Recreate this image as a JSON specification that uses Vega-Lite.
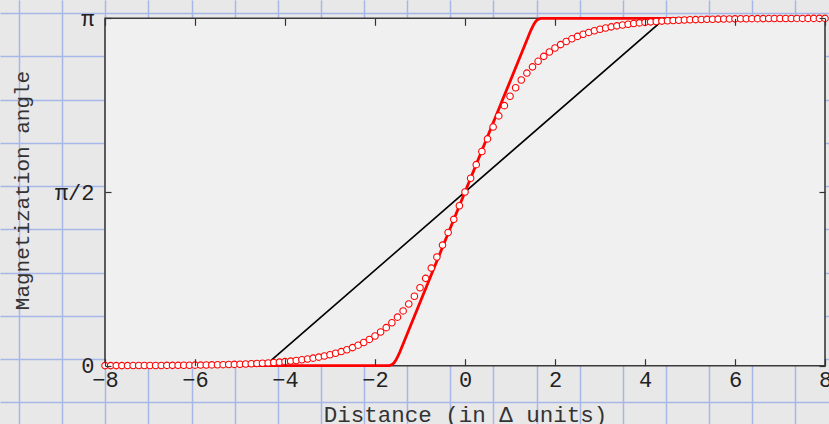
{
  "$schema": "https://vega.github.io/schema/vega-lite/v6.json",
  "width": 829,
  "height": 424,
  "autosize": {"type": "none"},
  "padding": 0,
  "background": "#e8e8e8",
  "config": {
    "view": {"stroke": null},
    "axis": {"labelFont": "Liberation Mono", "titleFont": "Liberation Mono", "labelColor": "#222", "titleColor": "#333", "titleFontWeight": "normal", "tickColor": "#333"}
  },
  "resolve": {"axis": {"x": "independent", "y": "independent"}},
  "datasets": {
    "box": [{"x0": -8, "x1": 8, "y0": 0, "y1": 3.14159}],
    "black": [{"x": -8, "y": 0}, {"x": -4.4429, "y": 0}, {"x": 4.4429, "y": 3.1416}, {"x": 8, "y": 3.1416}],
    "red": [
      {"x": -8, "y": 0}, {"x": -1.69, "y": 0}, {"x": -1.65, "y": 0.006}, {"x": -1.61, "y": 0.014}, {"x": -1.57, "y": 0.03}, {"x": -1.53, "y": 0.054}, {"x": -1.49, "y": 0.086}, {"x": -1.45, "y": 0.122},
      {"x": 1.45, "y": 3.0196}, {"x": 1.49, "y": 3.0556}, {"x": 1.53, "y": 3.0876}, {"x": 1.57, "y": 3.1116}, {"x": 1.61, "y": 3.1276}, {"x": 1.65, "y": 3.1356}, {"x": 1.69, "y": 3.1416}, {"x": 8, "y": 3.1416}
    ],
    "prof": [
      {"x": -8, "y": 0.0007}, {"x": -7.875, "y": 0.0008}, {"x": -7.75, "y": 0.0009}, {"x": -7.625, "y": 0.001}, {"x": -7.5, "y": 0.0011}, {"x": -7.375, "y": 0.0013}, {"x": -7.25, "y": 0.0014}, {"x": -7.125, "y": 0.0016},
      {"x": -7, "y": 0.0018}, {"x": -6.875, "y": 0.0021}, {"x": -6.75, "y": 0.0023}, {"x": -6.625, "y": 0.0027}, {"x": -6.5, "y": 0.003}, {"x": -6.375, "y": 0.0034}, {"x": -6.25, "y": 0.0039}, {"x": -6.125, "y": 0.0044},
      {"x": -6, "y": 0.005}, {"x": -5.875, "y": 0.0056}, {"x": -5.75, "y": 0.0064}, {"x": -5.625, "y": 0.0072}, {"x": -5.5, "y": 0.0082}, {"x": -5.375, "y": 0.0093}, {"x": -5.25, "y": 0.0105}, {"x": -5.125, "y": 0.0119},
      {"x": -5, "y": 0.0135}, {"x": -4.875, "y": 0.0153}, {"x": -4.75, "y": 0.0173}, {"x": -4.625, "y": 0.0196}, {"x": -4.5, "y": 0.0222}, {"x": -4.375, "y": 0.0252}, {"x": -4.25, "y": 0.0285}, {"x": -4.125, "y": 0.0323},
      {"x": -4, "y": 0.0366}, {"x": -3.875, "y": 0.0415}, {"x": -3.75, "y": 0.047}, {"x": -3.625, "y": 0.0533}, {"x": -3.5, "y": 0.0604}, {"x": -3.375, "y": 0.0684}, {"x": -3.25, "y": 0.0775}, {"x": -3.125, "y": 0.0878},
      {"x": -3, "y": 0.0995}, {"x": -2.875, "y": 0.1127}, {"x": -2.75, "y": 0.1277}, {"x": -2.625, "y": 0.1446}, {"x": -2.5, "y": 0.1638}, {"x": -2.375, "y": 0.1855}, {"x": -2.25, "y": 0.21}, {"x": -2.125, "y": 0.2377},
      {"x": -2, "y": 0.269}, {"x": -1.875, "y": 0.3043}, {"x": -1.75, "y": 0.3441}, {"x": -1.625, "y": 0.3888}, {"x": -1.5, "y": 0.4391}, {"x": -1.375, "y": 0.4953}, {"x": -1.25, "y": 0.5581}, {"x": -1.125, "y": 0.6278},
      {"x": -1, "y": 0.705}, {"x": -0.875, "y": 0.7899}, {"x": -0.75, "y": 0.8826}, {"x": -0.625, "y": 0.9829}, {"x": -0.5, "y": 1.0904}, {"x": -0.375, "y": 1.2043}, {"x": -0.25, "y": 1.3234}, {"x": -0.125, "y": 1.4461},
      {"x": 0, "y": 1.5708},
      {"x": 0.125, "y": 1.6955}, {"x": 0.25, "y": 1.8182}, {"x": 0.375, "y": 1.9373}, {"x": 0.5, "y": 2.0512}, {"x": 0.625, "y": 2.1587}, {"x": 0.75, "y": 2.259}, {"x": 0.875, "y": 2.3517}, {"x": 1, "y": 2.4366},
      {"x": 1.125, "y": 2.5138}, {"x": 1.25, "y": 2.5835}, {"x": 1.375, "y": 2.6463}, {"x": 1.5, "y": 2.7025}, {"x": 1.625, "y": 2.7527}, {"x": 1.75, "y": 2.7975}, {"x": 1.875, "y": 2.8373}, {"x": 2, "y": 2.8726},
      {"x": 2.125, "y": 2.9039}, {"x": 2.25, "y": 2.9316}, {"x": 2.375, "y": 2.9561}, {"x": 2.5, "y": 2.9778}, {"x": 2.625, "y": 2.997}, {"x": 2.75, "y": 3.0139}, {"x": 2.875, "y": 3.0289}, {"x": 3, "y": 3.0421},
      {"x": 3.125, "y": 3.0538}, {"x": 3.25, "y": 3.0641}, {"x": 3.375, "y": 3.0732}, {"x": 3.5, "y": 3.0812}, {"x": 3.625, "y": 3.0883}, {"x": 3.75, "y": 3.0946}, {"x": 3.875, "y": 3.1001}, {"x": 4, "y": 3.105},
      {"x": 4.125, "y": 3.1093}, {"x": 4.25, "y": 3.1131}, {"x": 4.375, "y": 3.1164}, {"x": 4.5, "y": 3.1194}, {"x": 4.625, "y": 3.122}, {"x": 4.75, "y": 3.1243}, {"x": 4.875, "y": 3.1263}, {"x": 5, "y": 3.1281},
      {"x": 5.125, "y": 3.1297}, {"x": 5.25, "y": 3.1311}, {"x": 5.375, "y": 3.1323}, {"x": 5.5, "y": 3.1334}, {"x": 5.625, "y": 3.1344}, {"x": 5.75, "y": 3.1352}, {"x": 5.875, "y": 3.136}, {"x": 6, "y": 3.1366},
      {"x": 6.125, "y": 3.1372}, {"x": 6.25, "y": 3.1377}, {"x": 6.375, "y": 3.1382}, {"x": 6.5, "y": 3.1386}, {"x": 6.625, "y": 3.1389}, {"x": 6.75, "y": 3.1393}, {"x": 6.875, "y": 3.1395}, {"x": 7, "y": 3.1398},
      {"x": 7.125, "y": 3.14}, {"x": 7.25, "y": 3.1402}, {"x": 7.375, "y": 3.1403}, {"x": 7.5, "y": 3.1405}, {"x": 7.625, "y": 3.1406}, {"x": 7.75, "y": 3.1407}, {"x": 7.875, "y": 3.1408}, {"x": 8, "y": 3.1409}
    ]
  },
  "layer": [
    {
      "data": {"name": "box"},
      "mark": {"type": "rect", "fill": "#f0f0f0", "stroke": "#3a3a3a", "strokeWidth": 1.6},
      "encoding": {
        "x": {"field": "x0", "type": "quantitative", "scale": {"domain": [-10.3333, 8.0889], "nice": false, "zero": false},
          "axis": {"orient": "top", "values": [-9.9111, -8.9527, -7.9942, -7.0358, -6.0773, -5.1189, -4.1604, -3.202, -2.2436, -1.2851, -0.3267, 0.6318, 1.5902, 2.5487, 3.5071, 4.4656, 5.424, 6.3824, 7.3409],
            "grid": true, "gridColor": "#a6b6e6", "gridWidth": 1.5, "gridOpacity": 1, "labels": false, "ticks": false, "domain": false, "title": null, "zindex": 0}},
        "x2": {"field": "x1"},
        "y": {"field": "y0", "type": "quantitative", "scale": {"domain": [-0.5272, 3.3071], "nice": false, "zero": false},
          "axis": {"orient": "right", "values": [3.1868, 2.7962, 2.4055, 2.0148, 1.6242, 1.2335, 0.8428, 0.4522, 0.0615, -0.3292],
            "grid": true, "gridColor": "#a6b6e6", "gridWidth": 1.5, "gridOpacity": 1, "labels": false, "ticks": false, "domain": false, "title": null, "zindex": 0}},
        "y2": {"field": "y1"}
      }
    },
    {
      "data": {"name": "black"},
      "mark": {"type": "line", "color": "#000000", "strokeWidth": 1.6},
      "encoding": {
        "x": {"field": "x", "type": "quantitative", "scale": {"domain": [-10.3333, 8.0889], "nice": false, "zero": false},
          "axis": {"orient": "bottom", "offset": -58.3, "values": [-8, -6, -4, -2, 0, 2, 4, 6, 8], "grid": false, "domain": false,
            "tickSize": -7, "tickWidth": 1.2, "labelPadding": 11, "labelFontSize": 22, "labelFlush": false, "labelOverlap": false,
            "title": "Distance (in Δ units)", "titleFontSize": 22.5, "titleX": 465, "titleY": 56, "titleBaseline": "alphabetic", "titleAnchor": "middle", "zindex": 2}},
        "y": {"field": "y", "type": "quantitative", "scale": {"domain": [-0.5272, 3.3071], "nice": false, "zero": false},
          "axis": {"orient": "left", "offset": -105, "values": [0, 1.5707963, 3.1415927], "grid": false, "domain": false,
            "labelExpr": "datum.value < 0.1 ? '0' : (datum.value < 2 ? 'π/2' : 'π')",
            "tickSize": -6, "tickWidth": 1.2, "labelPadding": 17, "labelFontSize": 22, "labelFlush": false, "labelOverlap": false,
            "title": "Magnetization angle", "titleFontSize": 21, "titleX": -76.5, "titleY": 190, "titleBaseline": "alphabetic", "titleAlign": "center", "titleAngle": -90, "zindex": 2}}
      }
    },
    {
      "data": {"name": "red"},
      "mark": {"type": "line", "color": "#ff0000", "strokeWidth": 2.8, "strokeJoin": "round"},
      "encoding": {
        "x": {"field": "x", "type": "quantitative", "scale": {"domain": [-10.3333, 8.0889], "nice": false, "zero": false},
          "axis": {"orient": "top", "offset": -18.3, "values": [-8, -6, -4, -2, 0, 2, 4, 6, 8], "grid": false, "domain": false, "labels": false,
            "tickSize": -7, "tickWidth": 1.2, "title": null, "zindex": 2}},
        "y": {"field": "y", "type": "quantitative", "scale": {"domain": [-0.5272, 3.3071], "nice": false, "zero": false},
          "axis": {"orient": "right", "offset": -4, "values": [0, 1.5707963, 3.1415927], "grid": false, "domain": false, "labels": false,
            "tickSize": -6, "tickWidth": 1.2, "title": null, "zindex": 2}}
      }
    },
    {
      "data": {"name": "prof"},
      "mark": {"type": "point", "shape": "circle", "filled": true, "fill": "#ffffff", "fillOpacity": 1, "stroke": "#ff0000", "strokeWidth": 1.1, "size": 42, "opacity": 1},
      "encoding": {
        "x": {"field": "x", "type": "quantitative", "scale": {"domain": [-10.3333, 8.0889], "nice": false, "zero": false}, "axis": null},
        "y": {"field": "y", "type": "quantitative", "scale": {"domain": [-0.5272, 3.3071], "nice": false, "zero": false}, "axis": null}
      }
    }
  ]
}
